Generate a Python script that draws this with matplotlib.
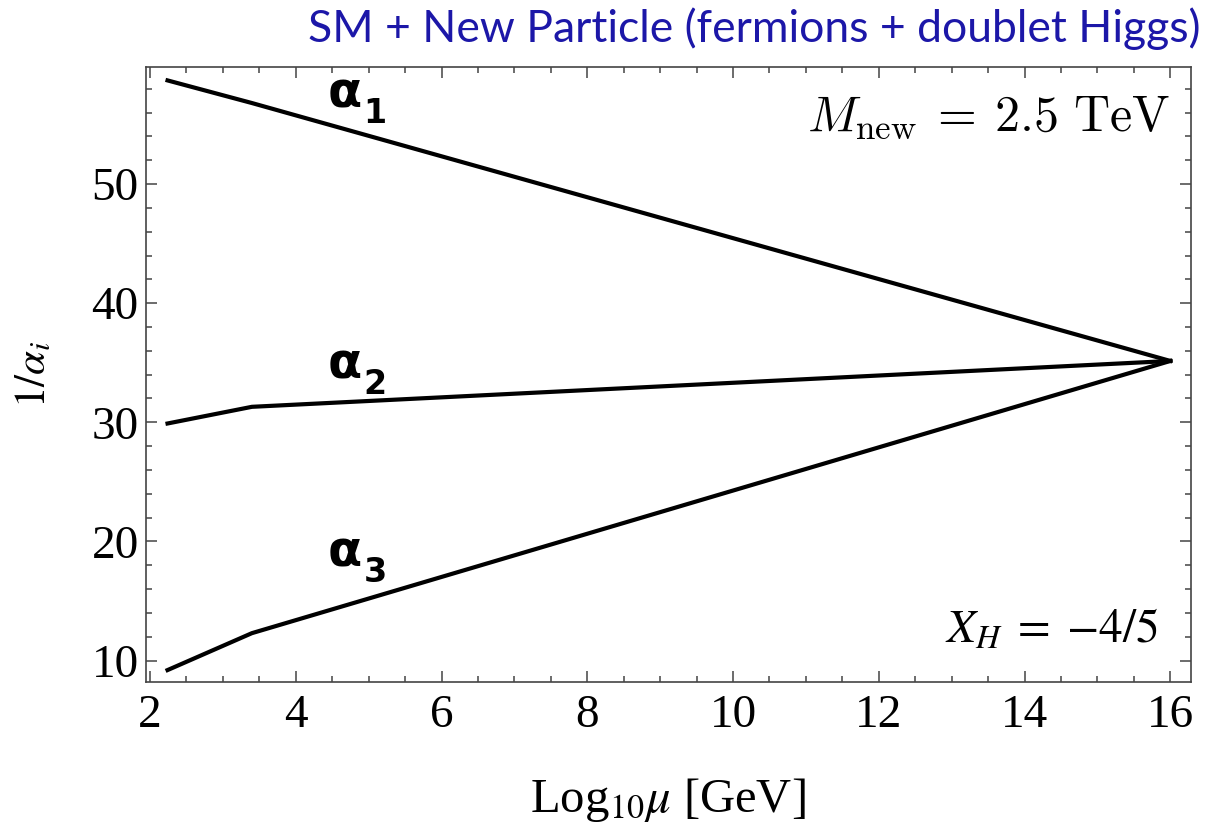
import matplotlib
matplotlib.use("Agg")
import matplotlib.pyplot as plt
from matplotlib.ticker import MultipleLocator

# ---- data ----
log_mu = [2.24, 3.398, 16.0]
inv_alpha1 = [58.7, 56.8, 35.15]
inv_alpha2 = [29.9, 31.3, 35.15]
inv_alpha3 = [9.2, 12.3, 35.15]

series = [inv_alpha1, inv_alpha2, inv_alpha3]
label_main = ["α", "α", "α"]
label_sub = ["1", "2", "3"]
label_pos = [(4.43, 56.4), (4.43, 33.7), (4.43, 17.9)]

x_ticks = [2, 4, 6, 8, 10, 12, 14, 16]
y_ticks = [10, 20, 30, 40, 50]

title = "SM + New Particle (fermions + doublet Higgs)"
mass_text = r"$M_{\rm new}\:=\:2.5\ {\rm TeV}$"
xh_text = r"$X_H\;=\;{-}4/5$"

# ---- figure ----
fig = plt.figure(figsize=(12.07, 8.32), dpi=100)
ax = fig.add_axes([0.1207, 0.1803, 0.8658, 0.7388])

for ys in series:
    ax.plot(log_mu, ys, color="black", lw=3.0, solid_joinstyle="miter")

ax.set_xlim(1.94, 16.28)
ax.set_ylim(8.2, 59.8)
ax.set_xticks(x_ticks)
ax.set_yticks(y_ticks)
ax.xaxis.set_minor_locator(MultipleLocator(0.5))
ax.yaxis.set_minor_locator(MultipleLocator(2))

frame_col = "#444444"
for sp in ax.spines.values():
    sp.set_color(frame_col)
    sp.set_linewidth(1.2)

ax.tick_params(which="both", direction="in", top=True, right=True,
               color=frame_col, width=1.1)
ax.tick_params(which="major", length=8)
ax.tick_params(which="minor", length=4.3)
ax.tick_params(axis="x", which="major", pad=9)
ax.tick_params(axis="y", which="major", pad=5)
for lab in ax.get_xticklabels() + ax.get_yticklabels():
    lab.set_fontfamily("Liberation Serif")
    lab.set_fontsize(34)

ax.set_xlabel(r"Log$_{10}\mu$ [GeV]", fontsize=35, family="Liberation Serif",
              math_fontfamily="stix", labelpad=28)
ax.set_ylabel(r"$1/\alpha_i$", fontsize=31, math_fontfamily="stix", labelpad=27)

# curve labels
for main, sub, (lx, ly) in zip(label_main, label_sub, label_pos):
    ax.text(lx, ly, main, fontsize=36, fontweight="bold", family="DejaVu Sans",
            ha="left", va="baseline")
    ax.annotate(sub, xy=(lx, ly), xytext=(26, -11), textcoords="offset points",
                fontsize=24, fontweight="bold", family="DejaVu Sans",
                ha="left", va="baseline")

ax.text(0.980, 0.898, mass_text, transform=ax.transAxes, fontsize=36,
        math_fontfamily="cm", ha="right", va="baseline")
ax.text(0.9687, 0.0634, xh_text, transform=ax.transAxes, fontsize=34,
        math_fontfamily="stix", ha="right", va="baseline")

fig.text(0.995, 0.949, title, fontsize=32, family="Lato", color="#1c17a8",
         ha="right", va="baseline")

fig.savefig("out.png", dpi=100)
